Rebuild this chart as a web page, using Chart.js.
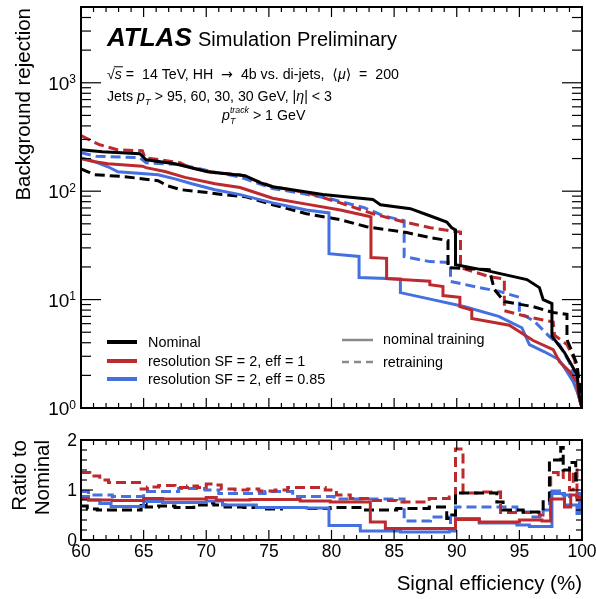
<!DOCTYPE html>
<html>
<head>
<meta charset="utf-8">
<script src="https://cdn.jsdelivr.net/npm/chart.js@4/dist/chart.umd.min.js"></script>
<style>
  html, body { margin: 0; padding: 0; background: #fff; }
  #wrap { position: relative; width: 596px; height: 599px; overflow: hidden; }
  #top { position: absolute; left: 0; top: 0; }
  #bot { position: absolute; left: 0; top: 420px; }
</style>
</head>
<body>
<div id="wrap">
  <canvas id="top" width="596" height="420"></canvas>
  <canvas id="bot" width="596" height="179"></canvas>
</div>
<script>
// ---- Background rejection vs signal efficiency (%) ----
// Nominal, nominal training
const effNom = [60, 61.7, 64.7, 65.2, 67.5, 70.1, 73.1, 74.3, 75.3, 79.3, 83.3, 83.9, 86.3, 87.9, 89.2, 89.6, 89.9, 89.9, 92.4, 95.6, 96.6, 96.9, 97.6, 97.6, 98.6, 99.6, 99.8, 100];
const rejNom = [241, 231, 222, 195, 179, 151, 139, 120, 110, 93, 84, 75, 69, 59, 52, 46, 44, 21, 18.5, 15.3, 12.9, 10, 9.2, 4.6, 3.25, 2.04, 1.28, 1.0];
// Nominal, retraining
const effNomRe = [60, 60.55, 61.1, 63.5, 66.15, 66.9, 68.05, 70.1, 71.25, 73.1, 75.3, 78.0, 80.7, 82.8, 84.4, 86.0, 87.9, 89.3, 89.3, 92.6, 93.0, 93.8, 96.1, 97.7, 98.8, 98.8, 99.2, 99.6, 99.8, 100];
const rejNomRe = [161, 151, 142, 136, 125, 112, 103, 97, 93, 89, 75, 62, 54.6, 47, 44.2, 41.5, 37.3, 35, 19.7, 18.9, 12.4, 9.6, 8.6, 7.6, 7.3, 4.28, 3.32, 2.52, 1.65, 1.0];
// resolution SF = 2, eff = 1, nominal training
const effSF1 = [60, 61.1, 62.15, 64.9, 65.2, 66.7, 68.3, 70.7, 72.7, 75.3, 78.0, 80.7, 82.6, 83.15, 83.15, 84.4, 84.4, 87.85, 87.85, 88.9, 88.9, 90.25, 90.25, 91.2, 91.2, 94.2, 96.1, 97.7, 98.2, 99.0, 99.6, 99.7, 100];
const rejSF1 = [199, 187, 179, 170, 165, 152, 134, 117, 108, 86, 76, 67, 60, 58, 24.4, 24, 15.6, 14.8, 13.7, 13.2, 10.9, 10.5, 8.6, 8.0, 6.7, 5.8, 4.19, 3.46, 2.68, 2.17, 1.72, 1.33, 1.0];
// resolution SF = 2, eff = 1, retraining
const effSF1Re = [60, 60.6, 61.5, 62.9, 64.9, 65.1, 67.9, 68.7, 70.7, 72.7, 75.3, 78.0, 80.7, 83.3, 85.8, 87.9, 89.5, 90.3, 90.3, 92.6, 93.8, 93.8, 96.0, 97.7, 97.8, 98.8, 99.4, 99.7, 99.9, 100];
const rejSF1Re = [325, 300, 268, 241, 236, 204, 183, 165, 148, 142, 110, 97, 78, 62, 52, 46, 43, 42, 19.7, 16.3, 15.5, 7.9, 6.8, 6.2, 4.7, 3.85, 2.8, 1.83, 1.2, 1.0];
// resolution SF = 2, eff = 0.85, nominal training
const effSF085 = [60, 61.1, 62.15, 62.95, 66.15, 67.5, 68.85, 70.7, 72.7, 75.3, 78.0, 79.8, 79.8, 82.2, 82.2, 85.5, 85.5, 87.7, 90.65, 93.35, 95.2, 95.8, 97.0, 98.15, 98.7, 99.3, 99.7, 100];
const rejSF085 = [204, 187, 168, 151, 142, 130, 117, 103, 93, 78, 67, 63, 26.5, 25, 16, 15.5, 11.6, 10.2, 8.6, 7.0, 5.5, 3.85, 3.3, 2.8, 2.26, 1.75, 1.33, 1.0];
// resolution SF = 2, eff = 0.85, retraining
const effSF085Re = [60, 61.2, 64.7, 65.2, 68.1, 69.0, 70.7, 72.7, 75.3, 77.5, 79.9, 82.6, 84.2, 85.8, 85.8, 87.85, 89.5, 89.5, 91.8, 93.4, 95.0, 95.0, 96.2, 97.4, 98.2, 99.0, 99.6, 99.8, 100];
const rejSF085Re = [226, 210, 204, 183, 175, 165, 150, 135, 106, 96, 85, 70.5, 59, 53.5, 24.9, 22.4, 22, 14.7, 12.9, 11.9, 10.5, 7.6, 6.3, 4.56, 3.85, 2.63, 1.65, 1.2, 1.0];

// ---- Ratio to Nominal ----
const rEffNomRe = [60, 60.5, 61.3, 64.8, 65.2, 66.2, 67.5, 69.0, 70.0, 70.6, 71.5, 73.0, 74.5, 76.0, 78.0, 79.9, 82.5, 85.2, 87.8, 89.2, 89.6, 89.9, 93.2, 93.7, 95.3, 96.9, 97.4, 98.3, 98.5, 99.0, 99.5, 100];
const rNomRe = [0.68, 0.62, 0.6, 0.72, 0.66, 0.68, 0.65, 0.7, 0.74, 0.7, 0.66, 0.65, 0.62, 0.65, 0.63, 0.65, 0.6, 0.63, 0.66, 0.43, 0.5, 0.94, 0.76, 0.6, 0.56, 0.8, 1.6, 1.85, 1.4, 1.55, 1.2, 1.2];
const rEffSF1 = [60, 60.6, 62.5, 65.0, 66.5, 68.0, 70.0, 70.8, 73.5, 77.5, 79.9, 83.1, 84.3, 89.9, 91.8, 95.0, 96.8, 97.5, 98.6, 99.1, 99.6, 100];
const rSF1 = [0.83, 0.8, 0.79, 0.83, 0.82, 0.82, 0.85, 0.8, 0.81, 0.78, 0.76, 0.36, 0.23, 0.41, 0.36, 0.4, 0.38, 0.82, 0.66, 0.9, 0.85, 0.85];
const rEffSF1Re = [60, 60.7, 61.5, 62.2, 64.8, 65.3, 66.2, 67.5, 68.5, 69.3, 70.0, 70.6, 71.2, 72.3, 73.3, 74.2, 75.5, 76.5, 78.0, 79.5, 80.4, 81.5, 83.1, 85.2, 87.8, 89.4, 89.9, 90.5, 91.8, 93.5, 96.6, 97.5, 98.1, 98.5, 99.0, 99.3, 99.6, 100];
const rSF1Re = [1.35, 1.28, 1.2, 1.15, 1.02, 1.06, 1.09, 1.05, 1.08, 1.05, 1.12, 1.1, 1.02, 1.0, 1.02, 0.98, 1.0, 1.05, 1.05, 1.0, 0.9, 0.83, 0.79, 0.76, 0.83, 0.86, 1.82, 0.94, 0.96, 0.55, 0.5, 1.35, 1.25, 1.39, 1.0, 1.4, 0.8, 0.8];
const rEffSF085 = [60, 60.6, 61.5, 62.4, 65.0, 66.5, 70.0, 71.3, 74.0, 78.0, 79.8, 82.3, 85.5, 89.4, 89.9, 91.8, 94.8, 95.8, 97.6, 98.6, 99.6, 99.8, 100];
const rSF085 = [0.87, 0.8, 0.73, 0.67, 0.77, 0.75, 0.78, 0.7, 0.65, 0.64, 0.29, 0.18, 0.16, 0.18, 0.43, 0.34, 0.3, 0.27, 0.93, 0.7, 0.53, 0.93, 0.93];
const rEffSF085Re = [60, 60.6, 62.5, 65.0, 67.8, 69.9, 71.0, 74.7, 76.9, 80.2, 85.8, 87.9, 89.5, 89.9, 94.8, 95.8, 96.9, 97.4, 98.2, 99.0, 99.6, 100];
const rSF085Re = [0.97, 0.9, 0.87, 0.97, 1.03, 1.0, 0.93, 0.97, 0.87, 0.82, 0.38, 0.46, 0.3, 0.66, 0.56, 0.46, 0.6, 0.98, 0.9, 0.87, 0.9, 0.9];

// ---- Axis ticks ----
const xTickLabels = [60, 65, 70, 75, 80, 85, 90, 95, 100];
const yDecades = [0, 1, 2, 3];
const ratioTickLabels = [0, 1, 2];

const BLACK = '#000000', RED = '#bd2a2e', BLUE = '#4470e0', GREY = '#8a8a8a';
const FAM = '"Liberation Sans", Arial, Helvetica, "DejaVu Sans", sans-serif';
const SYM = '"DejaVu Sans", sans-serif';
function font(sz, it, bold, fam) { return (it ? 'italic ' : '') + (bold ? 'bold ' : '') + sz + 'px ' + (fam || FAM); }

function series(xs, ys, color, dashed, stepped) {
  return {
    data: xs.map((x, i) => ({ x: x, y: ys[i] })),
    borderColor: color, borderWidth: 3, borderDash: dashed ? [10, 5] : [],
    pointRadius: 0, fill: false, tension: 0, stepped: stepped || false,
    borderCapStyle: 'butt', borderJoinStyle: 'miter'
  };
}

function seg(ctx, x1, y1, x2, y2) { ctx.beginPath(); ctx.moveTo(x1, y1); ctx.lineTo(x2, y2); ctx.stroke(); }

// Draws a line of text with italic / subscript / superscript pieces.
function rich(ctx, x, y, parts, size, align) {
  const segs = []; let total = 0;
  for (const p of parts) {
    const q = typeof p === 'string' ? { t: p } : p;
    if (q.ss) {
      ctx.font = font(size * 0.62, true);
      const w = Math.max(ctx.measureText(q.sub).width, ctx.measureText(q.sup).width);
      segs.push({ q: q, w: w }); total += w;
    } else {
      const sz = (q.sub || q.sup) ? size * 0.68 : size;
      ctx.font = font(sz, q.it, q.b, q.fam);
      const w = ctx.measureText(q.t).width;
      segs.push({ q: q, w: w, sz: sz }); total += w;
    }
  }
  let cx = align === 'right' ? x - total : (align === 'center' ? x - total / 2 : x);
  ctx.textAlign = 'left'; ctx.textBaseline = 'alphabetic';
  for (const s of segs) {
    const q = s.q;
    if (q.ss) {
      ctx.font = font(size * 0.62, true);
      ctx.fillText(q.sub, cx, y + size * 0.28);
      ctx.fillText(q.sup, cx, y - size * 0.5);
    } else {
      ctx.font = font(s.sz, q.it, q.b, q.fam);
      const dy = q.sub ? size * 0.25 : (q.sup ? -size * 0.42 : 0);
      ctx.fillText(q.t, cx, y + dy);
      if (q.over) {
        ctx.save(); ctx.lineWidth = 1; ctx.strokeStyle = ctx.fillStyle;
        seg(ctx, cx - 1, y - size * 0.86, cx + s.w + 1, y - size * 0.86); ctx.restore();
      }
    }
    cx += s.w;
  }
}

function vText(ctx, x, y, text, size) {
  ctx.save(); ctx.translate(x, y); ctx.rotate(-Math.PI / 2);
  ctx.font = font(size); ctx.textAlign = 'right'; ctx.textBaseline = 'alphabetic';
  ctx.fillText(text, 0, 0); ctx.restore();
}

function xTicks(ctx, sx, a, maj, min) {
  for (let v = 60; v <= 100; v++) {
    const px = sx.getPixelForValue(v), L = v % 5 === 0 ? maj : min;
    seg(ctx, px, a.bottom, px, a.bottom - L);
    seg(ctx, px, a.top, px, a.top + L);
  }
}

const topDecor = {
  id: 'topDecor',
  afterDraw(chart) {
    const ctx = chart.ctx, a = chart.chartArea, sx = chart.scales.x, sy = chart.scales.y;
    ctx.save();
    ctx.strokeStyle = '#000'; ctx.fillStyle = '#000'; ctx.lineWidth = 1.2;
    xTicks(ctx, sx, a, 10, 5);
    for (const d of yDecades) {
      for (let m = 1; m <= 9; m++) {
        const v = m * Math.pow(10, d);
        if (v > sy.max) break;
        const py = sy.getPixelForValue(v), L = m === 1 ? 20 : 10;
        seg(ctx, a.left, py, a.left + L, py);
        seg(ctx, a.right, py, a.right - L, py);
      }
    }
    ctx.lineWidth = 2;
    ctx.strokeRect(a.left, a.top, a.right - a.left, a.bottom - a.top);

    // y tick labels 10^n
    for (const d of yDecades) {
      const py = sy.getPixelForValue(Math.pow(10, d));
      ctx.font = font(12); const we = ctx.measureText(String(d)).width;
      ctx.textAlign = 'left'; ctx.textBaseline = 'alphabetic';
      ctx.fillText(String(d), 76 - we, py + 0.5);
      ctx.font = font(19); ctx.textAlign = 'right';
      ctx.fillText('10', 76 - we, py + 7);
    }
    // axis title
    vText(ctx, 30, a.top + 1, 'Background rejection', 20.5);

    // labels
    ctx.textAlign = 'left';
    ctx.font = font(26, true, true); ctx.fillText('ATLAS', 107, 46);
    ctx.font = font(20); ctx.fillText('Simulation Preliminary', 198, 46);
    rich(ctx, 107, 79, ['√', { t: 's', it: true, over: true }, ' =  14 TeV, HH  ', { t: '→', fam: SYM }, '  4b vs. di-jets,  ', { t: '⟨', fam: SYM }, { t: 'μ', it: true }, { t: '⟩', fam: SYM }, '  =  200'], 14.2, 'left');
    rich(ctx, 107, 101, ['Jets ', { t: 'p', it: true }, { t: 'T', it: true, sub: true }, ' > 95, 60, 30, 30 GeV, |', { t: 'η', it: true }, '| < 3'], 14.2, 'left');
    rich(ctx, 222, 120, [{ t: 'p', it: true }, { ss: true, sub: 'T', sup: 'track' }, ' > 1 GeV'], 14.2, 'left');

    // legend: variations
    const leg = [['Nominal', BLACK, 342], ['resolution SF = 2, eff = 1', RED, 361], ['resolution SF = 2, eff = 0.85', BLUE, 379]];
    for (const [t, c, yy] of leg) {
      ctx.strokeStyle = c; ctx.lineWidth = 4; ctx.setLineDash([]);
      seg(ctx, 107, yy, 137, yy);
      ctx.fillStyle = '#000'; ctx.font = font(14.4); ctx.textBaseline = 'middle';
      ctx.fillText(t, 148, yy + 1);
    }
    // legend: training
    ctx.strokeStyle = GREY; ctx.lineWidth = 2.5;
    seg(ctx, 342, 340, 373, 340);
    ctx.setLineDash([7, 5]); seg(ctx, 342, 362, 373, 362); ctx.setLineDash([]);
    ctx.fillStyle = '#000';
    ctx.fillText('nominal training', 383, 340);
    ctx.fillText('retraining', 383, 363);
    ctx.restore();
  }
};

const botDecor = {
  id: 'botDecor',
  afterDraw(chart) {
    const ctx = chart.ctx, a = chart.chartArea, sx = chart.scales.x, sy = chart.scales.y;
    ctx.save();
    ctx.strokeStyle = '#000'; ctx.fillStyle = '#000'; ctx.lineWidth = 1.2;
    xTicks(ctx, sx, a, 10, 5);
    for (let k = 0; k <= 10; k++) {
      const v = k * 0.2, py = sy.getPixelForValue(v), L = k % 5 === 0 ? 12 : 6;
      seg(ctx, a.left, py, a.left + L, py);
      seg(ctx, a.right, py, a.right - L, py);
    }
    ctx.lineWidth = 2;
    ctx.strokeRect(a.left, a.top, a.right - a.left, a.bottom - a.top);

    ctx.font = font(17.5); ctx.textAlign = 'right'; ctx.textBaseline = 'alphabetic';
    for (const v of ratioTickLabels) ctx.fillText(String(v), 77, sy.getPixelForValue(v) + 6);
    ctx.textAlign = 'center';
    for (const v of xTickLabels) ctx.fillText(String(v), sx.getPixelForValue(v), a.bottom + 17);

    ctx.font = font(20.5); ctx.textAlign = 'right';
    ctx.fillText('Signal efficiency (%)', a.right, 170);
    vText(ctx, 26, a.top, 'Ratio to', 20.5);
    vText(ctx, 49, a.top, 'Nominal', 20.5);
    ctx.restore();
  }
};

const common = {
  responsive: false, animation: false, devicePixelRatio: 1, events: [],
  plugins: { legend: { display: false }, tooltip: { enabled: false } }
};

new Chart(document.getElementById('top'), {
  type: 'line',
  data: { datasets: [
    series(effNom, rejNom, BLACK, false),
    series(effSF1, rejSF1, RED, false),
    series(effSF085, rejSF085, BLUE, false),
    series(effNomRe, rejNomRe, BLACK, true),
    series(effSF1Re, rejSF1Re, RED, true),
    series(effSF085Re, rejSF085Re, BLUE, true)
  ]},
  options: Object.assign({}, common, {
    layout: { padding: { left: 81, top: 7, right: 14, bottom: 12 } },
    scales: {
      x: { type: 'linear', min: 60, max: 100, display: false },
      y: { type: 'logarithmic', min: 1, max: 5000, display: false }
    }
  }),
  plugins: [topDecor]
});

new Chart(document.getElementById('bot'), {
  type: 'line',
  data: { datasets: [
    series(rEffSF1, rSF1, RED, false, 'before'),
    series(rEffSF085, rSF085, BLUE, false, 'before'),
    series(rEffNomRe, rNomRe, BLACK, true, 'before'),
    series(rEffSF1Re, rSF1Re, RED, true, 'before'),
    series(rEffSF085Re, rSF085Re, BLUE, true, 'before')
  ]},
  options: Object.assign({}, common, {
    layout: { padding: { left: 81, top: 20, right: 14, bottom: 59 } },
    scales: {
      x: { type: 'linear', min: 60, max: 100, display: false },
      y: { type: 'linear', min: 0, max: 2, display: false }
    }
  }),
  plugins: [botDecor]
});
</script>
</body>
</html>
